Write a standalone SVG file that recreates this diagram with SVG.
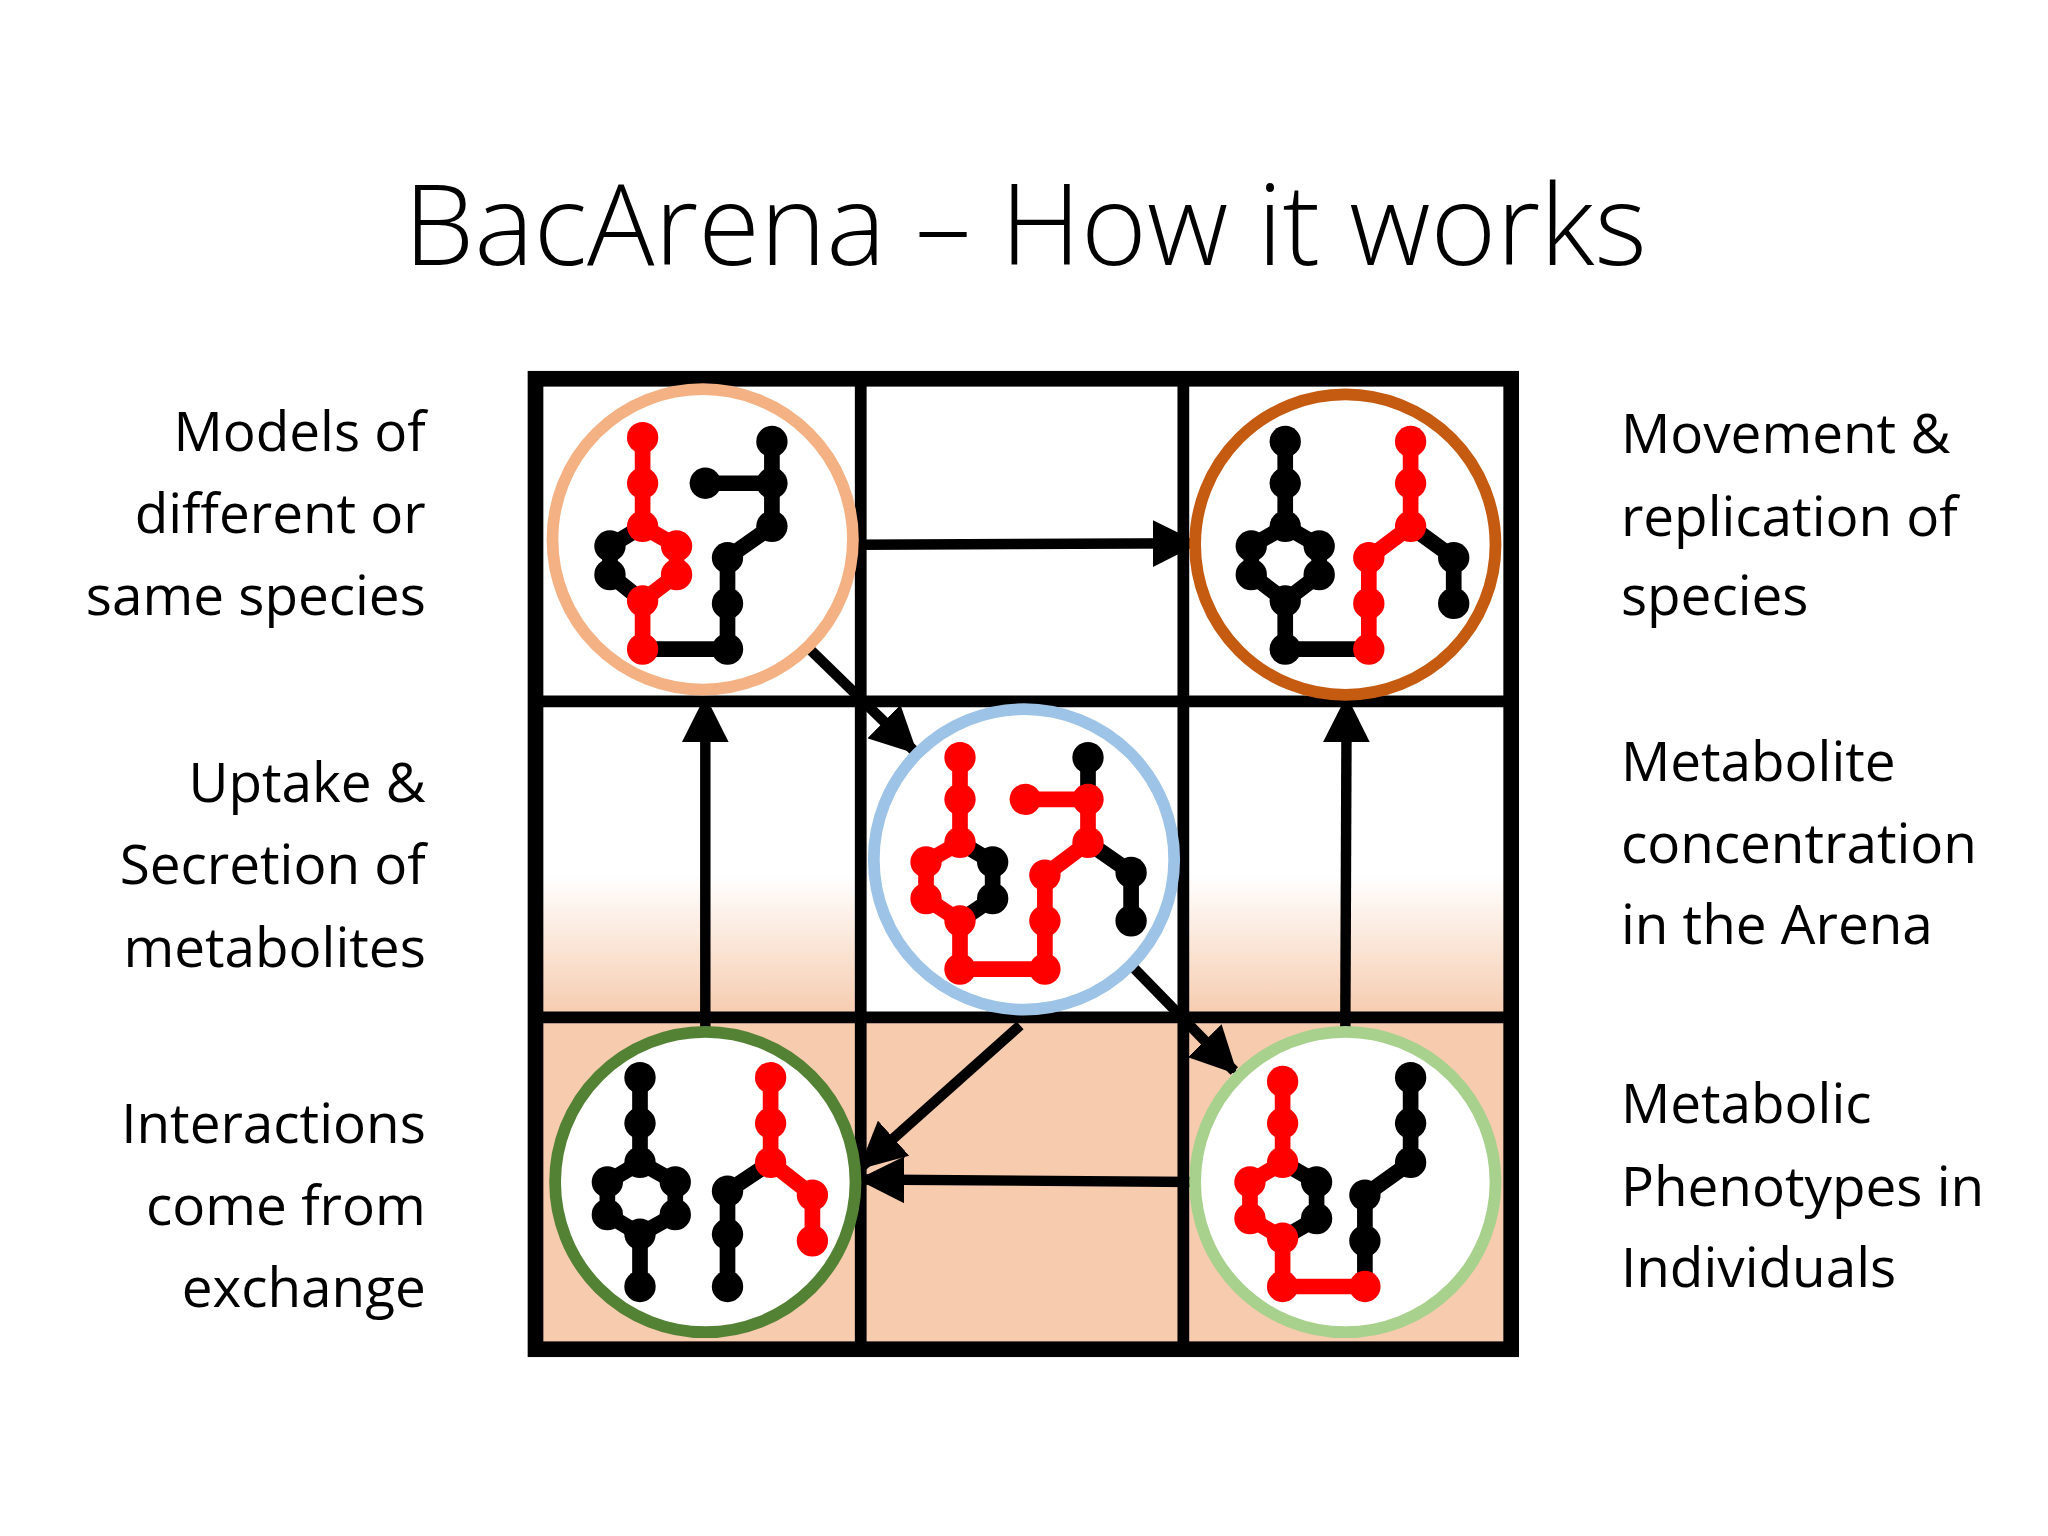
<svg xmlns="http://www.w3.org/2000/svg" width="2048" height="1536" viewBox="0 0 2048 1536">
<style>
.t{font-family:"Open Sans","Liberation Sans",Arial,sans-serif;font-size:42px;fill:#000}
.r{text-anchor:end}
.k{stroke:#000;stroke-width:12;fill:none;stroke-linejoin:round;stroke-linecap:round}
.d{stroke:#f00;stroke-width:12;fill:none;stroke-linejoin:round;stroke-linecap:round}
.kn circle{fill:#000}
.dn circle{fill:#f00}
.a{stroke:#000;stroke-width:8;fill:none;marker-end:url(#ah)}
.ring{fill:#fff;stroke-width:9}
</style>
<defs>
<marker id="ah" viewBox="0 0 10 10" refX="9" refY="5" markerWidth="4.5" markerHeight="4.5" orient="auto" markerUnits="strokeWidth"><path d="M0,0 L10,5 L0,10 z" fill="#000"/></marker>
<linearGradient id="g" x1="0" y1="0" x2="0" y2="1"><stop offset="0.55" stop-color="#fff"/><stop offset="1" stop-color="#F6CBAE"/></linearGradient>
</defs>
<rect width="2048" height="1536" fill="#fff"/>
<g transform="scale(1.30612)">
<text x="785" y="203" font-family="Open Sans, Liberation Sans, sans-serif" font-weight="300" font-size="86" text-anchor="middle">BacArena – How it works</text>
<g id="grid">
<rect x="410" y="779" width="747" height="254" fill="#F6CBAE"/>
<rect x="410" y="537" width="249" height="242" fill="url(#g)"/>
<rect x="906" y="537" width="251" height="242" fill="url(#g)"/>
<rect x="410" y="290" width="747" height="743" fill="none" stroke="#000" stroke-width="12"/>
<path d="M659,290V1033M906,290V1033M410,537H1157M410,779H1157" stroke="#000" stroke-width="9"/>
</g>
<g id="connectors">
<path class="a" d="M657,417L915,416"/>
<path class="a" d="M620,497L700,575"/>
<path class="a" d="M865,738L945,820"/>
<path class="a" d="M781,785L660,893"/>
<path class="a" d="M915,905L660,903"/>
<path class="a" d="M540,790L540,536"/>
<path class="a" d="M1030,790L1031,536"/>
</g>
<g id="n1">
<circle class="ring" cx="538" cy="413" r="115" stroke="#F4B183"/>
<path class="k" d="M492,403L467,418L467,440L492,460M492,497H557V427L591,403V338M540,370H591"/>
<path class="d" d="M492,335V403L518,418V440L492,460V497"/>
<g class="kn"><circle cx="467" cy="418" r="12"/><circle cx="467" cy="440" r="12"/><circle cx="557" cy="497" r="12"/><circle cx="557" cy="462" r="12"/><circle cx="557" cy="427" r="12"/><circle cx="591" cy="403" r="12"/><circle cx="591" cy="370" r="12"/><circle cx="591" cy="338" r="12"/><circle cx="540" cy="370" r="12"/></g>
<g class="dn"><circle cx="492" cy="335" r="12"/><circle cx="492" cy="370" r="12"/><circle cx="492" cy="403" r="12"/><circle cx="518" cy="418" r="12"/><circle cx="518" cy="440" r="12"/><circle cx="492" cy="460" r="12"/><circle cx="492" cy="497" r="12"/></g>
</g>
<g id="n2">
<circle class="ring" cx="1030" cy="417" r="115" stroke="#C55A11"/>
<path class="k" d="M984,338V403L958,418V440L984,460L1010,440V418L984,403M984,460V497H1048M1080,403L1113,427V462"/>
<path class="d" d="M1048,497V427L1080,403V338"/>
<g class="kn"><circle cx="984" cy="338" r="12"/><circle cx="984" cy="370" r="12"/><circle cx="984" cy="403" r="12"/><circle cx="958" cy="418" r="12"/><circle cx="958" cy="440" r="12"/><circle cx="984" cy="460" r="12"/><circle cx="1010" cy="440" r="12"/><circle cx="1010" cy="418" r="12"/><circle cx="984" cy="497" r="12"/><circle cx="1113" cy="427" r="12"/><circle cx="1113" cy="462" r="12"/></g>
<g class="dn"><circle cx="1048" cy="497" r="12"/><circle cx="1048" cy="462" r="12"/><circle cx="1048" cy="427" r="12"/><circle cx="1080" cy="403" r="12"/><circle cx="1080" cy="370" r="12"/><circle cx="1080" cy="338" r="12"/></g>
</g>
<g id="n3">
<circle class="ring" cx="784" cy="658" r="115" stroke="#9DC3E6"/>
<path class="k" d="M735,645L760,660V688L735,705M833,612V580M833,645L866,668V705"/>
<path class="d" d="M735,580V645L709,660V688L735,705V742H800V670L833,645V612H785"/>
<g class="kn"><circle cx="760" cy="660" r="12"/><circle cx="760" cy="688" r="12"/><circle cx="833" cy="580" r="12"/><circle cx="866" cy="668" r="12"/><circle cx="866" cy="705" r="12"/></g>
<g class="dn"><circle cx="735" cy="580" r="12"/><circle cx="735" cy="612" r="12"/><circle cx="735" cy="645" r="12"/><circle cx="709" cy="660" r="12"/><circle cx="709" cy="688" r="12"/><circle cx="735" cy="705" r="12"/><circle cx="735" cy="742" r="12"/><circle cx="800" cy="742" r="12"/><circle cx="800" cy="705" r="12"/><circle cx="800" cy="670" r="12"/><circle cx="833" cy="645" r="12"/><circle cx="833" cy="612" r="12"/><circle cx="785" cy="612" r="12"/></g>
</g>
<g id="n4">
<circle class="ring" cx="540" cy="905" r="115" stroke="#548235"/>
<path class="k" d="M490,825V890L465,905V930L490,945L517,930V905L490,890M490,945V985M590,890L557,912V985"/>
<path class="d" d="M590,825V890L622,915V950"/>
<g class="kn"><circle cx="490" cy="825" r="12"/><circle cx="490" cy="860" r="12"/><circle cx="490" cy="890" r="12"/><circle cx="465" cy="905" r="12"/><circle cx="465" cy="930" r="12"/><circle cx="490" cy="945" r="12"/><circle cx="517" cy="930" r="12"/><circle cx="517" cy="905" r="12"/><circle cx="490" cy="985" r="12"/><circle cx="557" cy="912" r="12"/><circle cx="557" cy="945" r="12"/><circle cx="557" cy="985" r="12"/></g>
<g class="dn"><circle cx="590" cy="825" r="12"/><circle cx="590" cy="860" r="12"/><circle cx="590" cy="890" r="12"/><circle cx="622" cy="915" r="12"/><circle cx="622" cy="950" r="12"/></g>
</g>
<g id="n5">
<circle class="ring" cx="1030" cy="905" r="115" stroke="#A9D18E"/>
<path class="k" d="M982,890L1008,905V933L982,948M1045,985V915L1080,890V825"/>
<path class="d" d="M982,828V890L957,905V933L982,948V985H1045"/>
<g class="kn"><circle cx="1008" cy="905" r="12"/><circle cx="1008" cy="933" r="12"/><circle cx="1045" cy="950" r="12"/><circle cx="1045" cy="915" r="12"/><circle cx="1080" cy="890" r="12"/><circle cx="1080" cy="860" r="12"/><circle cx="1080" cy="825" r="12"/></g>
<g class="dn"><circle cx="982" cy="828" r="12"/><circle cx="982" cy="860" r="12"/><circle cx="982" cy="890" r="12"/><circle cx="957" cy="905" r="12"/><circle cx="957" cy="933" r="12"/><circle cx="982" cy="948" r="12"/><circle cx="982" cy="985" r="12"/><circle cx="1045" cy="985" r="12"/></g>
</g>
<g id="labels">
<text class="t r" x="326" y="345">Models of</text>
<text class="t r" x="326" y="408">different or</text>
<text class="t r" x="326" y="471">same species</text>
<text class="t r" x="326" y="614">Uptake &amp;</text>
<text class="t r" x="326" y="677">Secretion of</text>
<text class="t r" x="326" y="740">metabolites</text>
<text class="t r" x="326" y="875">Interactions</text>
<text class="t r" x="326" y="938">come from</text>
<text class="t r" x="326" y="1001">exchange</text>
<text class="t" x="1241" y="347">Movement &amp;</text>
<text class="t" x="1241" y="410">replication of</text>
<text class="t" x="1241" y="471">species</text>
<text class="t" x="1241" y="598">Metabolite</text>
<text class="t" x="1241" y="661">concentration</text>
<text class="t" x="1241" y="723">in the Arena</text>
<text class="t" x="1241" y="860">Metabolic</text>
<text class="t" x="1241" y="923">Phenotypes in</text>
<text class="t" x="1241" y="985">Individuals</text>
</g>
</g>
</svg>
